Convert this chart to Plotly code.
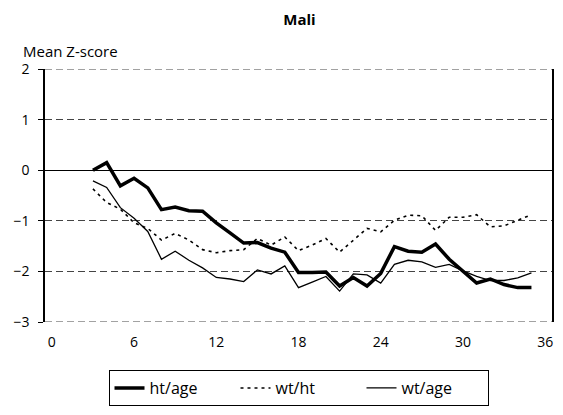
import plotly.graph_objects as go

months = list(range(3, 36))
ht_age = [0.0, 0.15, -0.31, -0.16, -0.35, -0.78, -0.73, -0.80, -0.81, -1.04, -1.24,
          -1.44, -1.43, -1.54, -1.62, -2.02, -2.02, -2.01, -2.29, -2.12, -2.29, -2.04,
          -1.51, -1.60, -1.62, -1.46, -1.76, -1.99, -2.23, -2.15, -2.26, -2.32, -2.32]
wt_ht = [-0.37, -0.64, -0.77, -1.04, -1.15, -1.38, -1.25, -1.38, -1.57, -1.63, -1.59,
         -1.57, -1.35, -1.48, -1.32, -1.59, -1.48, -1.35, -1.62, -1.38, -1.15, -1.22,
         -0.99, -0.89, -0.90, -1.19, -0.93, -0.93, -0.88, -1.12, -1.10, -0.99, -0.88]
wt_age = [-0.21, -0.34, -0.74, -0.95, -1.21, -1.76, -1.60, -1.78, -1.93, -2.12, -2.15,
          -2.20, -1.97, -2.05, -1.89, -2.32, -2.21, -2.10, -2.39, -2.05, -2.07, -2.23,
          -1.86, -1.78, -1.81, -1.92, -1.86, -1.99, -2.10, -2.18, -2.18, -2.13, -2.03]
x_ticks = [0, 6, 12, 18, 24, 30, 36]
y_ticks = [-3, -2, -1, 0, 1, 2]
y_min, y_max = -3, 2

FONT = "Open Sans"
GRID = dict(color="#444", width=1, dash="7px,4px")

fig = go.Figure()
fig.add_trace(go.Scatter(x=months, y=ht_age, mode="lines", name="ht/age",
                         line=dict(color="black", width=3.5)))
fig.add_trace(go.Scatter(x=months, y=wt_ht, mode="lines", name="wt/ht",
                         line=dict(color="black", width=1.6, dash="3px,4px")))
fig.add_trace(go.Scatter(x=months, y=wt_age, mode="lines", name="wt/age",
                         line=dict(color="black", width=1.3)))

# dashed frame lines at the range ends
for yv in (y_min, y_max):
    fig.add_shape(type="line", xref="paper", yref="y", x0=0, x1=1, y0=yv, y1=yv,
                  line=GRID, layer="below")

fig.update_layout(
    width=563, height=415,
    margin=dict(l=45, r=9, t=69, b=83),
    paper_bgcolor="white", plot_bgcolor="white",
    font=dict(family=FONT, size=14, color="black"),
    title=dict(text="<b>Mali</b>", x=0.532, xanchor="center", y=0.952, yanchor="middle",
               font=dict(family=FONT, size=15, color="black")),
    showlegend=True,
    legend=dict(orientation="h", x=0.5, xanchor="center", y=-0.19, yanchor="top",
                bordercolor="black", borderwidth=1, font=dict(size=16),
                entrywidth=81, entrywidthmode="pixels", itemwidth=30, tracegroupgap=0),
    xaxis=dict(range=[-0.5, 36.5], tickvals=x_ticks, showgrid=False, zeroline=False,
               showline=False, ticks="", ticklabelstandoff=10, tickfont=dict(size=14)),
    yaxis=dict(range=[y_min, y_max], tickvals=y_ticks, showgrid=True, gridcolor=GRID["color"],
               griddash=GRID["dash"], gridwidth=1, zeroline=True, zerolinecolor="black",
               zerolinewidth=1, showline=True, linecolor="black", linewidth=1.5,
               mirror=True, ticks="outside", ticklen=5, tickcolor="black",
               ticklabelstandoff=6, tickfont=dict(size=14)),
    annotations=[dict(text="Mean Z-score", xref="paper", yref="paper", x=0, y=1,
                      xanchor="left", yanchor="bottom", xshift=-24, yshift=6,
                      showarrow=False, font=dict(size=15))],
)

fig.write_html("out.html", config={"displayModeBar": False},
               post_script="document.body.style.margin='0px';")
